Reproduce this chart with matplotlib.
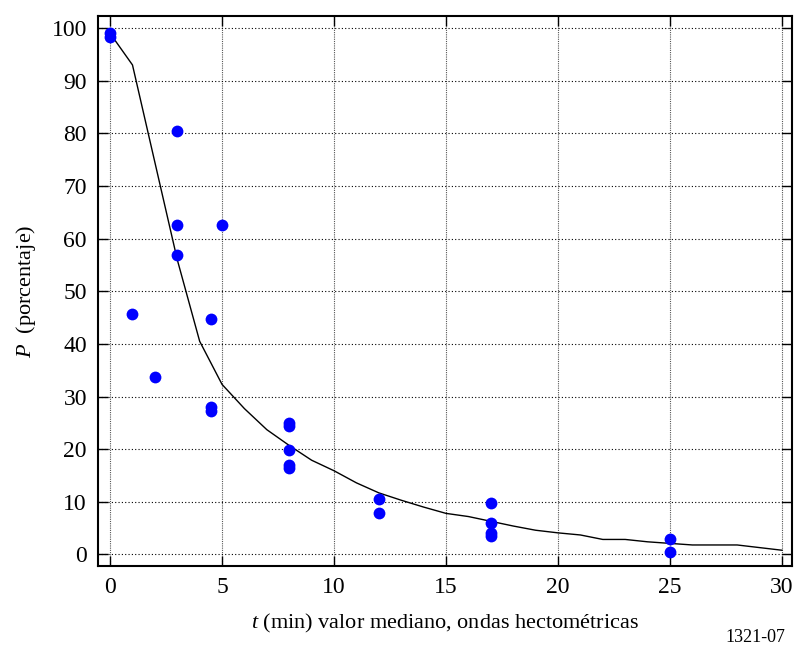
import numpy as np
import matplotlib
matplotlib.use("Agg")
import matplotlib.pyplot as plt

plt.rcParams["font.family"] = "Liberation Serif"
plt.rcParams["mathtext.fontset"] = "custom"
plt.rcParams["mathtext.rm"] = "Liberation Serif"
plt.rcParams["mathtext.it"] = "Liberation Serif:italic"

# measured points
t_obs = [0, 0, 1, 2, 3, 3, 3, 4.5, 4.5, 4.5, 5, 8, 8, 8, 8, 8, 12, 12, 17, 17, 17, 17, 25, 25]
p_obs = [99, 98.3, 45.7, 33.8, 80.5, 62.5, 56.9, 44.7, 28, 27.3, 62.5, 25, 24.4, 19.8, 17, 16.4,
         10.6, 7.8, 9.8, 5.9, 4, 3.5, 2.9, 0.5]

# fitted curve
t_fit = list(range(0, 31))
p_fit = [99, 93, 74.5, 56, 40.5, 32.3, 27.7, 23.7, 20.7, 17.9, 15.9, 13.6, 11.7, 10.3, 9.0,
         7.8, 7.2, 6.3, 5.4, 4.6, 4.1, 3.7, 2.85, 2.85, 2.4, 2.1, 1.8, 1.8, 1.8, 1.3, 0.8]

fig = plt.figure(figsize=(7.98, 6.53), dpi=100)
ax = fig.add_axes([0.1228, 0.1332, 0.8697, 0.8423])

ax.plot(t_fit, p_fit, color="black", lw=1.0, zorder=2)
ax.plot(t_obs, p_obs, "o", color="#0000ff", ms=8.5, mec="none", zorder=3)

ax.set_xlim(-0.54, 30.45)
ax.set_ylim(-2.2, 102.3)
ax.set_xticks(range(0, 31, 5))
ax.set_yticks(range(0, 101, 10))
ax.xaxis.grid(True, color="#555555", ls=(0, (1, 1)), lw=0.8)
ax.yaxis.grid(True, color="black", ls=(0, (1, 2)), lw=0.8)
ax.tick_params(direction="in", length=7, width=1, top=True, right=True, labelsize=17, pad=8)
for s in ax.spines.values():
    s.set_linewidth(1.5)

ax.set_xlabel(r"$\it{t}$ (min) valor mediano, ondas hectométricas", fontsize=16, labelpad=10)
ax.set_ylabel(r"$\it{P}$  (porcentaje)", fontsize=16, labelpad=10)
fig.text(0.946, 0.01, "1321-07", fontsize=13, ha="center", va="bottom")

fig.savefig("out.png", dpi=100)
